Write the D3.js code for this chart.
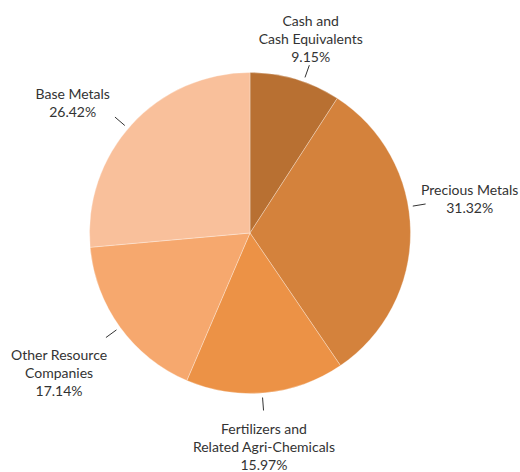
<!DOCTYPE html>
<html>
<head>
<meta charset="utf-8">
<script src="https://cdn.jsdelivr.net/npm/d3@7"></script>
<style>
  html, body { margin: 0; padding: 0; background: #ffffff; }
  svg { display: block; }
  text { font-family: "Lato", "Open Sans", sans-serif; font-size: 14px; fill: #333333; }
</style>
</head>
<body>
<svg id="chart" width="520" height="472"></svg>
<script>
// ---- data ----
const categories = [
  "Cash and\nCash Equivalents",
  "Precious Metals",
  "Fertilizers and\nRelated Agri-Chemicals",
  "Other Resource\nCompanies",
  "Base Metals"
];
const values = [9.15, 31.32, 15.97, 17.14, 26.42];
const valueLabels = ["9.15%", "31.32%", "15.97%", "17.14%", "26.42%"];
const colors = ["#b87032", "#d4823c", "#ec9246", "#f6a86e", "#f9c09b"];

// ---- layout (label placement tuning, degrees / px) ----
const labelAngleNudge = [3, -8.7, 1.2, 0, -1.8];
const labelOffset = [[-16, -2], [-4, -3], [-5, 10], [-8, 19], [-14, -3]];

const W = 520, H = 472;
const cx = 250, cy = 233, R = 160.5;
const tickR0 = 165, tickR1 = 178;
const lineH = 18;

const svg = d3.select("#chart");
const g = svg.append("g").attr("transform", `translate(${cx},${cy})`);

const pie = d3.pie().sort(null).value(d => d.v);
const data = categories.map((c, i) => ({ c, v: values[i], lbl: valueLabels[i], i }));
const arcs = pie(data);
const arc = d3.arc().innerRadius(0).outerRadius(R);

g.selectAll("path.slice")
  .data(arcs)
  .enter().append("path")
  .attr("class", "slice")
  .attr("d", arc)
  .attr("fill", d => colors[d.data.i])
  .attr("stroke", "#ffffff")
  .attr("stroke-opacity", 0.5)
  .attr("stroke-width", 0.6);

const pt = (r, a) => [r * Math.sin(a), -r * Math.cos(a)];

arcs.forEach(d => {
  const i = d.data.i;
  const a = (d.startAngle + d.endAngle) / 2 + labelAngleNudge[i] * Math.PI / 180;
  const p0 = pt(tickR0, a), p1 = pt(tickR1, a);
  g.append("line")
    .attr("x1", p0[0]).attr("y1", p0[1])
    .attr("x2", p1[0]).attr("y2", p1[1])
    .attr("stroke", "#333333").attr("stroke-width", 1);

  const lines = d.data.c.split("\n").concat([d.data.lbl]);
  const t = g.append("text").attr("text-anchor", "middle");
  lines.forEach((s, k) => {
    t.append("tspan").attr("x", 0).attr("y", k * lineH).text(s);
  });
  const bb = t.node().getBBox();
  const hw = bb.width / 2, hh = bb.height / 2;
  const bcx = bb.x + hw, bcy = bb.y + hh;
  const tx = p1[0] + Math.sin(a) * hw + labelOffset[i][0];
  const ty = p1[1] - Math.cos(a) * hh + labelOffset[i][1];
  t.attr("transform", `translate(${tx - bcx},${ty - bcy})`);
});
</script>
</body>
</html>
